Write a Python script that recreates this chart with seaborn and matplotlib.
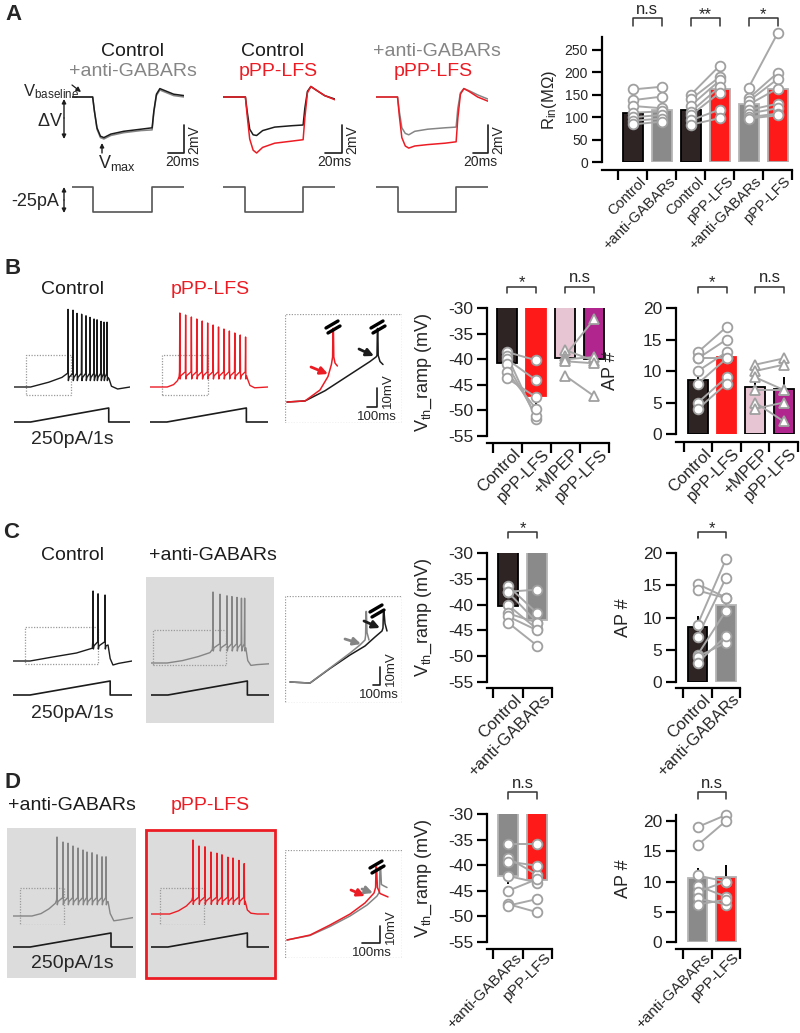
import numpy as np
import pandas as pd
import matplotlib
matplotlib.use('Agg')
import matplotlib.pyplot as plt
import seaborn as sns
from matplotlib.transforms import Affine2D, blended_transform_factory
from matplotlib.lines import Line2D
from matplotlib.patches import Rectangle, FancyArrowPatch

# ======================= DATA =======================
# ---- Panel A : passive responses (time ms, deltaV mV) ----
A_t1 = [0, 24, 26, 29, 33, 37, 45, 60, 80, 93, 95, 98, 102, 108, 118, 130]
A_t2 = [0, 26, 28, 31, 35, 39, 46, 60, 80, 93, 95, 98, 102, 108, 118, 130]
A_t3 = [0, 25, 27, 30, 34, 38, 45, 60, 80, 93, 95, 98, 102, 108, 118, 130]
A1_ctrl = [0, 0, -1.0, -2.2, -2.8, -2.9, -2.65, -2.45, -2.3, -2.2, -1.0, 0.2, 0.6, 0.45, 0.2, 0.1]
A1_anti = [0, 0, -1.0, -2.3, -2.9, -3.0, -2.75, -2.55, -2.4, -2.35, -1.1, 0.1, 0.5, 0.35, 0.1, 0.0]
A2_ctrl = [0, 0, -1.0, -2.3, -2.7, -2.75, -2.4, -2.15, -2.05, -2.0, -0.8, 0.4, 0.75, 0.5, 0.1, -0.15]
A2_lfs = [0, 0, -1.3, -3.0, -3.8, -4.0, -3.6, -3.3, -3.15, -3.05, -1.5, 0.3, 0.75, 0.5, 0.1, -0.2]
A3_anti = [0, 0, -1.0, -2.2, -2.6, -2.7, -2.45, -2.3, -2.2, -2.15, -0.8, 0.3, 0.6, 0.45, 0.15, -0.15]
A3_lfs = [0, 0, -1.3, -2.9, -3.5, -3.65, -3.5, -3.4, -3.3, -3.2, -1.5, 0.2, 0.6, 0.4, 0.0, -0.3]
A_step_on = [24, 26, 25]
A_step_off = [93, 93, 93]
A_step_pA = -25

# ---- Panel A : input resistance ----
A_rin_labels = ['Control', '+anti-GABARs', 'Control', 'pPP-LFS', '+anti-GABARs', 'pPP-LFS']
A_rin_means = [110, 117, 115, 162, 130, 162]
A_rin_sem = [9, 9, 9, 14, 9, 20]
A_rin_ctrl1 = [162, 138, 125, 110, 100, 92, 84]
A_rin_anti1 = [168, 146, 120, 113, 105, 97, 90]
A_rin_ctrl2 = [150, 140, 126, 112, 104, 93, 83]
A_rin_lfs2 = [215, 190, 182, 168, 155, 117, 98]
A_rin_anti3 = [166, 142, 136, 128, 116, 108, 100, 97]
A_rin_lfs3 = [287, 199, 185, 164, 130, 120, 108, 104]

# ---- Ramp traces (time ms, Vm mV) ----
ramp_I_t = [0, 215, 1225, 1225, 1500]
ramp_I_pA = [0, 0, 250, 0, 0]

B_ctrl_pre_t = [0, 215, 450, 620, 690]
B_ctrl_pre_v = [-65, -65, -59, -53, -48]
B_ctrl_sp_t = [699, 763, 815, 875, 931, 983, 1035, 1074, 1125, 1164, 1203]
B_ctrl_sp_v = [32, 31, 27, 26, 24, 22, 20, 19, 17, 16, 16]
B_ctrl_trough = -50
B_ctrl_post_t = [1230, 1260, 1340, 1500]
B_ctrl_post_v = [-55, -64, -67.5, -65]

B_lfs_pre_t = [0, 220, 300, 350, 370]
B_lfs_pre_v = [-65, -65, -62, -57, -52]
B_lfs_sp_t = [379, 453, 526, 595, 664, 733, 802, 871, 940, 1009, 1078, 1147, 1215]
B_lfs_sp_v = [27.5, 25, 22.5, 20, 17.5, 15, 12.5, 10, 7.5, 5, 2.5, 0, -2.5]
B_lfs_trough = -48
B_lfs_post_t = [1240, 1270, 1330, 1500]
B_lfs_post_v = [-55, -63, -66, -65]

C_ctrl_pre_t = [0, 215, 500, 800, 1000]
C_ctrl_pre_v = [-65, -65, -60, -55, -49]
C_ctrl_sp_t = [1009, 1072, 1160]
C_ctrl_sp_v = [22.5, 19, 17.5]
C_ctrl_trough = -43
C_ctrl_post_t = [1198, 1225, 1260, 1330, 1500]
C_ctrl_post_v = [-45, -62, -70, -68, -65]

C_anti_pre_t = [0, 205, 400, 600, 750, 780]
C_anti_pre_v = [-65, -65, -62, -57, -52, -48]
C_anti_sp_t = [788, 877, 966, 1029, 1093, 1150, 1190]
C_anti_sp_v = [23.75, 21, 19, 18, 17, 16, 16]
C_anti_trough = -43
C_anti_post_t = [1205, 1230, 1270, 1350, 1500]
C_anti_post_v = [-46, -62, -68, -67, -66]

D_anti_pre_t = [0, 237, 350, 450, 530, 545]
D_anti_pre_v = [-65, -65, -62, -56, -49, -45]
D_anti_sp_t = [550, 625, 688, 750, 813, 875, 925, 988, 1050, 1113, 1163]
D_anti_sp_v = [33.75, 27.5, 26, 22.5, 20, 17.5, 15, 14, 11.5, 9, 9]
D_anti_trough = -44
D_anti_post_t = [1188, 1215, 1260, 1330, 1500]
D_anti_post_v = [-47, -62, -71, -70, -67]

D_lfs_pre_t = [0, 237, 350, 450, 520]
D_lfs_pre_v = [-65, -65, -61, -55, -48]
D_lfs_sp_t = [533, 610, 686, 762, 838, 902, 978, 1042, 1118, 1185]
D_lfs_sp_v = [27.5, 20, 19, 12.5, 11, 9, 6, 5, 2, -2]
D_lfs_trough = -46
D_lfs_post_t = [1200, 1225, 1270, 1350, 1500]
D_lfs_post_v = [-50, -60, -64, -65, -65]

# ---- Zoomed insets (time ms, Vm mV) ----
Bi_lfs_t = [10, 100, 175, 215, 232, 238, 240, 242, 244, 250, 262]
Bi_lfs_v = [-61, -60.3, -53, -44, -36, -31, -12, -12, -31, -35, -37]
Bi_ctrl_t = [10, 100, 200, 275, 350, 425, 455, 460, 462, 464, 466, 475, 490]
Bi_ctrl_v = [-61, -60.3, -53.5, -47, -40.5, -34, -31, -30, -12, -12, -30, -34, -36]
Ci_anti_t = [25, 125, 225, 325, 375, 400, 403, 405, 407, 410, 420]
Ci_anti_v = [-61, -61.7, -51.7, -41.7, -36.3, -33, -30, -14, -14, -28, -33]
Ci_ctrl_t = [25, 125, 225, 325, 400, 450, 485, 490, 492, 495, 500, 510]
Ci_ctrl_v = [-61, -61.7, -52, -43, -37, -31, -27, -25, -14, -14, -22, -27]
Di_lfs_t = [10, 125, 225, 325, 400, 445, 453, 455, 458, 462, 475, 515]
Di_lfs_v = [-63, -59.7, -53, -45.7, -38.3, -31.7, -28, -14.3, -14.3, -28, -32, -34.3]
Di_anti_t = [10, 125, 225, 325, 410, 460, 472, 475, 478, 482, 495, 510]
Di_anti_v = [-63, -60, -54, -47, -39.7, -33.7, -31, -14.3, -14.3, -26, -27, -28]

# ---- Bar panels ----
B_vth_labels = ['Control', 'pPP-LFS', '+MPEP', 'pPP-LFS']
B_vth_means = [-40.8, -47.2, -39.7, -39.9]
B_vth_sem = [0.8, 1.8, 0.9, 1.8]
B_vth_ctrl = [-38.6, -39.3, -40.0, -41.0, -42.5, -43.7]
B_vth_lfs = [-40.2, -51.6, -44.1, -51.0, -49.7, -47.4]
B_vth_mpep = [-38.2, -39.3, -40.0, -40.4, -43.2]
B_vth_mpep_lfs = [-40.3, -32.2, -39.6, -40.8, -47.2]

B_ap_means = [8.6, 12.3, 7.5, 7.2]
B_ap_sem = [1.3, 1.5, 1.1, 1.8]
B_ap_ctrl = [13, 12, 12, 10, 8, 5, 4]
B_ap_lfs = [17, 15, 12, 13, 12, 9, 8]
B_ap_mpep = [11, 10, 9, 7, 5, 4]
B_ap_mpep_lfs = [12, 11, 7, 7, 2, 5]

C_labels = ['Control', '+anti-GABARs']
C_vth_means = [-40.3, -43.0]
C_vth_sem = [1.0, 1.2]
C_vth_ctrl = [-36.4, -37.5, -37.6, -40.1, -41.7, -42.3, -43.5]
C_vth_anti = [-41.7, -37.1, -43.5, -44.8, -43.5, -45.0, -48.0]
C_ap_means = [8.6, 11.9]
C_ap_sem = [1.6, 1.8]
C_ap_ctrl = [15.2, 14.2, 8.9, 7.0, 4.2, 3.9, 3.0]
C_ap_anti = [13.1, 13.0, 19.0, 16.1, 11.0, 6.1, 7.1]

D_labels = ['+anti-GABARs', 'pPP-LFS']
D_vth_means = [-42.2, -42.8]
D_vth_sem = [1.5, 1.3]
D_vth_anti = [-35.9, -38.6, -39.3, -42.1, -45.0, -47.6, -47.9]
D_vth_lfs = [-35.9, -41.9, -40.1, -43.4, -42.7, -49.2, -46.6]
D_ap_means = [10.6, 10.8]
D_ap_sem = [1.6, 2.0]
D_ap_anti = [19, 16, 11, 9.3, 8.3, 7.2, 6.2]
D_ap_lfs = [21, 20, 10, 7.5, 10, 6.2, 7.0]

# ======================= STYLE =======================
sns.set_style('ticks')
plt.rcParams['font.family'] = ['Liberation Sans', 'DejaVu Sans']
plt.rcParams['mathtext.fontset'] = 'custom'
plt.rcParams['mathtext.rm'] = 'Liberation Sans'
plt.rcParams['mathtext.it'] = 'Liberation Sans:italic'
plt.rcParams['axes.unicode_minus'] = False

BLK = '#1c1c1c'
GRY = '#858585'
RED = '#ec1c24'
C_CTRL = '#2e2424'
C_ANTI = '#8a8a8a'
C_LFS = '#ff1a1a'
C_MPEP = '#e8c5d3'
C_MAG = '#b0268e'

W, H = 800, 1033
fig = plt.figure(figsize=(8, 10.33), dpi=100)
PX = Affine2D().scale(1 / W, -1 / H).translate(0, 1) + fig.transFigure


def ax_px(x0, y0, x1, y1):
    return fig.add_axes([x0 / W, 1 - y1 / H, (x1 - x0) / W, (y1 - y0) / H])


def txt(x, y, s, **kw):
    kw.setdefault('ha', 'center')
    kw.setdefault('va', 'center')
    fig.text(x, y, s, transform=PX, **kw)


def line_px(xs, ys, **kw):
    fig.add_artist(Line2D(xs, ys, transform=PX, **kw))


def arrow_px(p0, p1, color, style='-|>', ms=10, lw=1.2):
    fig.add_artist(FancyArrowPatch(p0, p1, transform=PX, arrowstyle=style,
                                   mutation_scale=ms, color=color, lw=lw,
                                   shrinkA=0, shrinkB=0))


def trace_axes(x0, y0, x1, y1, xlim, ylim):
    ax = ax_px(x0, y0, x1, y1)
    ax.set_xlim(xlim)
    ax.set_ylim(ylim)
    ax.axis('off')
    ax.patch.set_visible(False)
    return ax


def spike_trace(pre_t, pre_v, sp_t, sp_v, trough, post_t, post_v):
    t = list(pre_t)
    v = list(pre_v)
    for ts, pk in zip(sp_t, sp_v):
        t += [ts - 4, ts, ts + 4, ts + 12]
        v += [trough + 2, pk, trough - 7, trough - 3]
    return t + list(post_t), v + list(post_v)


def vm_axes(x0, x1, y0, y1, base_px):
    return trace_axes(x0, y0, x1, y1, (0, 1500),
                      (-65 - (y1 - base_px) / 0.8, -65 + (base_px - y0) / 0.8))


def cur_axes(x0, x1, y0, y1, zero_px):
    return trace_axes(x0, y0, x1, y1, (0, 1500),
                      (-(y1 - zero_px) / 0.056, (zero_px - y0) / 0.056))


def zoom_rect(ax, t0, t1, v0, v1):
    ax.add_patch(Rectangle((t0, v0), t1 - t0, v1 - v0, fill=False,
                           ls=(0, (1, 1.2)), ec='#9a9a9a', lw=0.9))


def scalebar(xv, ytop, ybot, xleft, vlab, hlab, vx, hx, hy, size=9.5):
    line_px([xleft, xv, xv], [ybot, ybot, ytop], color=BLK, lw=1.2)
    txt(vx, ybot + 1, vlab, rotation=90, fontsize=size, va='bottom')
    txt(hx, hy, hlab, fontsize=size)


def breakmark(cx, cy):
    line_px([cx - 7, cx + 5], [cy + 1, cy - 6], color='black', lw=2.4)
    line_px([cx - 5, cx + 7], [cy + 6, cy - 1], color='black', lw=2.4)


def bar_panel(box, xlim, ylim, yticks, labels, means, sems, colors, edges,
              pairs, ylabel, ylab_x, sigs, offset, tick_fs, lab_fs, ylab_fs, lab_dy=9):
    x0, y0, x1, y1 = box
    ax = ax_px(x0, y0, x1, y1)
    ax.patch.set_visible(False)
    keys = ['k%d' % i for i in range(len(means))]
    df = pd.DataFrame({'key': keys, 'val': means})
    sns.barplot(data=df, x='key', y='val', hue='key', order=keys, hue_order=keys,
                palette=dict(zip(keys, colors)), errorbar=None, width=0.69,
                legend=False, ax=ax, saturation=1, linewidth=1.3)
    for p, ec in zip(ax.patches, edges):
        p.set_edgecolor(ec)
    ax.errorbar(range(len(means)), means, yerr=sems, fmt='none', ecolor='black',
                elinewidth=1.4, capsize=0, zorder=0.9)
    for i, j, a, b, mk in pairs:
        for u, v in zip(a, b):
            ax.plot([i, j], [u, v], color='#a8a8a8', lw=1.4, zorder=3, clip_on=False)
        for pos, vals in ((i, a), (j, b)):
            ax.plot([pos] * len(vals), vals, ls='', marker=mk, ms=7, mfc='white',
                    mec='#a0a0a0', mew=1.3, zorder=4, clip_on=False)
    ax.set_xlim(xlim)
    ax.set_ylim(ylim)
    ax.set_yticks(yticks)
    ax.set_yticklabels([str(t) for t in yticks])
    n = len(means)
    ax.set_xticks([k - 0.5 for k in range(n + 1)])
    ax.set_xticklabels([])
    ax.set_xlabel('')
    ax.set_ylabel(ylabel, fontsize=ylab_fs)
    ax.yaxis.set_label_coords(ylab_x, 0.5, transform=blended_transform_factory(PX, ax.transAxes))
    for s in ('top', 'right'):
        ax.spines[s].set_visible(False)
    ax.spines['bottom'].set_position(('outward', offset))
    ax.spines['bottom'].set_bounds(xlim[0], n - 0.5)
    for s in ('left', 'bottom'):
        ax.spines[s].set_linewidth(1.6)
        ax.spines[s].set_color('black')
    ax.tick_params(axis='both', width=1.6, length=7, labelsize=tick_fs,
                   direction='out', color='black', pad=3)
    bl = blended_transform_factory(ax.transData, PX)
    axis_px = y1 + offset * 100 / 72
    for k, lab in enumerate(labels):
        ax.text(k + 0.38, axis_px + lab_dy, lab, transform=bl, rotation=45, ha='right',
                va='center', rotation_mode='anchor', fontsize=lab_fs)
    for i, j, s, yt, yb, ytx in sigs:
        ax.plot([i, i, j, j], [yb, yt, yt, yb], transform=bl, color='#333333',
                lw=1.1, clip_on=False)
        ax.text((i + j) / 2, ytx, s, transform=bl, ha='center', va='center', fontsize=12)
    return ax


# ======================= PANEL A =======================
txt(13, 15, 'A', fontsize=16, fontweight='bold')
A_traces = [
    (72, A_t1, [(A1_anti, GRY), (A1_ctrl, BLK)]),
    (223, A_t2, [(A2_ctrl, BLK), (A2_lfs, RED)]),
    (376, A_t3, [(A3_anti, GRY), (A3_lfs, RED)]),
]
for k, (x0, tt, sets) in enumerate(A_traces):
    ax = trace_axes(x0, 80, x0 + 112, 160, (0, 130), (-4.5, 17 / 14))
    for vv, cc in sets:
        ax.plot(tt, vv, color=cc, lw=1.1)
    axI = trace_axes(x0, 180, x0 + 112, 218, (0, 130), (-31, 7))
    on, off = A_step_on[k], A_step_off[k]
    axI.plot([0, on, on, off, off, 130], [0, 0, A_step_pA, A_step_pA, 0, 0],
             color='#555555', lw=1.2)

txt(132, 52, 'Control', fontsize=14, color=BLK)
txt(133, 72, '+anti-GABARs', fontsize=14, color=GRY)
txt(273, 52, 'Control', fontsize=14, color=BLK)
txt(278, 72, 'pPP-LFS', fontsize=14, color=RED)
txt(437, 52, '+anti-GABARs', fontsize=14, color=GRY)
txt(433, 72, 'pPP-LFS', fontsize=14, color=RED)

for xv, xl, vx, hx in ((184, 168, 194, 182), (342, 325, 352, 334), (488, 473, 498, 480)):
    scalebar(xv, 125, 153, xl, '2mV', '20ms', vx, hx, 162, size=10)

txt(23, 92, r'V$_{\rm baseline}$', fontsize=12, ha='left')
arrow_px((72, 85), (81, 92), BLK, ms=7, lw=0.9)
txt(50, 121, r'$\Delta$V', fontsize=13)
arrow_px((64, 118), (64, 99), BLK, ms=6, lw=1)
arrow_px((64, 118), (64, 139), BLK, ms=6, lw=1)
txt(98, 163, r'V$_{\rm max}$', fontsize=13, ha='left')
arrow_px((102, 153), (102, 143), BLK, ms=6, lw=1)
txt(35, 201, '-25pA', fontsize=13)
arrow_px((64, 200), (64, 187), BLK, ms=6, lw=1)
arrow_px((64, 200), (64, 213), BLK, ms=6, lw=1)

bar_panel((602, 37, 792, 162), (-1.07, 5.5), (0, 279), [0, 50, 100, 150, 200, 250],
          A_rin_labels, A_rin_means, A_rin_sem,
          [C_CTRL, C_ANTI, C_CTRL, C_LFS, C_ANTI, C_LFS],
          ['black', '#b5b5b5', 'black', '#b0b0b0', '#b5b5b5', '#b0b0b0'],
          [(0, 1, A_rin_ctrl1, A_rin_anti1, 'o'), (2, 3, A_rin_ctrl2, A_rin_lfs2, 'o'),
           (4, 5, A_rin_anti3, A_rin_lfs3, 'o')],
          r'R$_{\rm in}$(M$\Omega$)', 559,
          [(0, 1, 'n.s', 18, 26, 10), (2, 3, '**', 18, 26, 15), (4, 5, '*', 18, 26, 15)],
          6, 10, 10.5, 12)

# ======================= PANEL B =======================
txt(13, 268, 'B', fontsize=16, fontweight='bold')
txt(73, 289, 'Control', fontsize=14, color=BLK)
txt(210, 289, 'pPP-LFS', fontsize=14, color=RED)
t, v = spike_trace(B_ctrl_pre_t, B_ctrl_pre_v, B_ctrl_sp_t, B_ctrl_sp_v, B_ctrl_trough,
                   B_ctrl_post_t, B_ctrl_post_v)
ax = vm_axes(14, 130, 300, 400, 387)
ax.plot(t, v, color=BLK, lw=1.0)
zoom_rect(ax, 155, 737, -75, -25)
t, v = spike_trace(B_lfs_pre_t, B_lfs_pre_v, B_lfs_sp_t, B_lfs_sp_v, B_lfs_trough,
                   B_lfs_post_t, B_lfs_post_v)
ax = vm_axes(150, 268, 300, 400, 387)
ax.plot(t, v, color=RED, lw=1.0)
zoom_rect(ax, 155, 737, -75, -25)
for x0, x1 in ((14, 130), (150, 268)):
    axI = cur_axes(x0, x1, 400, 430, 422)
    axI.plot(ramp_I_t, ramp_I_pA, color=BLK, lw=1.2)
txt(72, 439, '250pA/1s', fontsize=14)

axi = trace_axes(285, 314, 402, 423, (0, 585), (-75, -75 + 109 / 1.5))
axi.add_patch(Rectangle((0, 0), 1, 1, transform=axi.transAxes, fill=False,
                        ls=(0, (1, 1.2)), ec='#9a9a9a', lw=0.9))
axi.plot(Bi_ctrl_t, Bi_ctrl_v, color=BLK, lw=1.1)
axi.plot(Bi_lfs_t, Bi_lfs_v, color=RED, lw=1.1)
breakmark(333, 327)
breakmark(378, 327)
arrow_px((311, 367), (328, 374), RED, ms=11, lw=2)
arrow_px((359, 349), (374, 356), BLK, ms=11, lw=2)
scalebar(377, 388, 407, 367, '10mV', '100ms', 388, 377, 417)

bar_panel((487, 308, 610, 436), (-0.69, 3.55), (-55, -30), [-55, -50, -45, -40, -35, -30],
          B_vth_labels, B_vth_means, B_vth_sem,
          [C_CTRL, C_LFS, C_MPEP, C_MAG], ['black', '#ff1a1a', 'black', 'black'],
          [(0, 1, B_vth_ctrl, B_vth_lfs, 'o'), (2, 3, B_vth_mpep, B_vth_mpep_lfs, '^')],
          r'V$_{\rm th}$_ramp (mV)', 434,
          [(0, 1, '*', 287, 293, 283), (2, 3, 'n.s', 287, 293, 277)],
          5, 12.5, 12, 13)
bar_panel((676, 308, 798, 434), (-0.77, 3.5), (0, 20), [0, 5, 10, 15, 20],
          B_vth_labels, B_ap_means, B_ap_sem,
          [C_CTRL, C_LFS, C_MPEP, C_MAG], ['black', '#ff1a1a', 'black', 'black'],
          [(0, 1, B_ap_ctrl, B_ap_lfs, 'o'), (2, 3, B_ap_mpep, B_ap_mpep_lfs, '^')],
          'AP #', 619,
          [(0, 1, '*', 287, 293, 283), (2, 3, 'n.s', 287, 293, 277)],
          6, 12.5, 12, 13)

# ======================= PANEL C =======================
txt(11, 532, 'C', fontsize=16, fontweight='bold')
txt(73, 555, 'Control', fontsize=14, color=BLK)
txt(213, 555, '+anti-GABARs', fontsize=14, color=BLK)
fig.add_artist(Rectangle((146, 577), 128, 146, transform=PX, fc='#dcdcdc', ec='none', zorder=-1))
t, v = spike_trace(C_ctrl_pre_t, C_ctrl_pre_v, C_ctrl_sp_t, C_ctrl_sp_v, C_ctrl_trough,
                   C_ctrl_post_t, C_ctrl_post_v)
ax = vm_axes(13, 132, 580, 670, 661)
ax.plot(t, v, color=BLK, lw=1.0)
zoom_rect(ax, 152, 1067, -68.75, -22.5)
t, v = spike_trace(C_anti_pre_t, C_anti_pre_v, C_anti_sp_t, C_anti_sp_v, C_anti_trough,
                   C_anti_post_t, C_anti_post_v)
ax = vm_axes(151, 269, 580, 670, 663)
ax.plot(t, v, color=GRY, lw=1.0)
zoom_rect(ax, 25, 953, -67.5, -23.75)
for x0, x1 in ((13, 132), (151, 269)):
    axI = cur_axes(x0, x1, 675, 705, 695)
    axI.plot(ramp_I_t, ramp_I_pA, color=BLK, lw=1.2)
txt(72, 713, '250pA/1s', fontsize=14)

axi = trace_axes(285, 596, 402, 703, (0, 585), (-75, -75 + 107 / 1.5))
axi.add_patch(Rectangle((0, 0), 1, 1, transform=axi.transAxes, fill=False,
                        ls=(0, (1, 1.2)), ec='#9a9a9a', lw=0.9))
axi.plot(Ci_ctrl_t, Ci_ctrl_v, color=BLK, lw=1.1)
axi.plot(Ci_anti_t, Ci_anti_v, color=GRY, lw=1.1)
breakmark(377, 611)
arrow_px((345, 639), (361, 644), GRY, ms=11, lw=2)
arrow_px((364, 621), (380, 628), BLK, ms=11, lw=2)
scalebar(380, 667, 685, 373, '10mV', '100ms', 391, 379, 695)

bar_panel((487, 553, 552, 682), (-0.72, 1.5), (-55, -30), [-55, -50, -45, -40, -35, -30],
          C_labels, C_vth_means, C_vth_sem, [C_CTRL, C_ANTI], ['black', '#b5b5b5'],
          [(0, 1, C_vth_ctrl, C_vth_anti, 'o')],
          r'V$_{\rm th}$_ramp (mV)', 434, [(0, 1, '*', 532, 538, 529)],
          4.5, 12.5, 12, 13)
bar_panel((676, 553, 740, 682), (-0.76, 1.5), (0, 20), [0, 5, 10, 15, 20],
          C_labels, C_ap_means, C_ap_sem, [C_CTRL, C_ANTI], ['black', '#b5b5b5'],
          [(0, 1, C_ap_ctrl, C_ap_anti, 'o')],
          'AP #', 632, [(0, 1, '*', 532, 538, 529)],
          4.5, 12.5, 12, 13)

# ======================= PANEL D =======================
txt(13, 782, 'D', fontsize=16, fontweight='bold')
txt(72, 805, '+anti-GABARs', fontsize=14, color=BLK)
txt(210, 805, 'pPP-LFS', fontsize=14, color=RED)
fig.add_artist(Rectangle((7, 828), 129, 150, transform=PX, fc='#dcdcdc', ec='none', zorder=-1))
fig.add_artist(Rectangle((146, 830), 129, 148, transform=PX, fc='#dcdcdc', ec=RED, lw=2, zorder=-1))
t, v = spike_trace(D_anti_pre_t, D_anti_pre_v, D_anti_sp_t, D_anti_sp_v, D_anti_trough,
                   D_anti_post_t, D_anti_post_v)
ax = vm_axes(13, 133, 830, 925, 916)
ax.plot(t, v, color=GRY, lw=1.0)
zoom_rect(ax, 88, 638, -76, -30)
t, v = spike_trace(D_lfs_pre_t, D_lfs_pre_v, D_lfs_sp_t, D_lfs_sp_v, D_lfs_trough,
                   D_lfs_post_t, D_lfs_post_v)
ax = vm_axes(151, 269, 830, 925, 914)
ax.plot(t, v, color=RED, lw=1.0)
zoom_rect(ax, 114, 673, -78.75, -32.5)
for x0, x1 in ((13, 133), (151, 269)):
    axI = cur_axes(x0, x1, 925, 955, 947)
    axI.plot(ramp_I_t, ramp_I_pA, color=BLK, lw=1.2)
txt(72, 964, '250pA/1s', fontsize=14)

axi = trace_axes(285, 850, 402, 958, (0, 585), (-75, -75 + 108 / 1.5))
axi.add_patch(Rectangle((0, 0), 1, 1, transform=axi.transAxes, fill=False,
                        ls=(0, (1, 1.2)), ec='#9a9a9a', lw=0.9))
axi.plot(Di_anti_t, Di_anti_v, color=GRY, lw=1.1)
axi.plot(Di_lfs_t, Di_lfs_v, color=RED, lw=1.1)
breakmark(377, 867)
arrow_px((351, 890), (365, 896), RED, ms=11, lw=2)
arrow_px((362, 889), (373, 893), GRY, ms=11, lw=2)
scalebar(380, 926, 943, 362, '10mV', '100ms', 391, 372, 953)

bar_panel((487, 814, 552, 942), (-0.72, 1.5), (-55, -30), [-55, -50, -45, -40, -35, -30],
          D_labels, D_vth_means, D_vth_sem, [C_ANTI, C_LFS], ['#b5b5b5', '#b0b0b0'],
          [(0, 1, D_vth_anti, D_vth_lfs, 'o')],
          r'V$_{\rm th}$_ramp (mV)', 434, [(0, 1, 'n.s', 792, 799, 783)],
          5, 12.5, 11, 13, lab_dy=7)
bar_panel((676, 815, 740, 942), (-0.76, 1.5), (0, 21), [0, 5, 10, 15, 20],
          D_labels, D_ap_means, D_ap_sem, [C_ANTI, C_LFS], ['#b5b5b5', '#b0b0b0'],
          [(0, 1, D_ap_anti, D_ap_lfs, 'o')],
          'AP #', 632, [(0, 1, 'n.s', 792, 799, 783)],
          5, 12.5, 11, 13, lab_dy=7)

fig.savefig('out.png', dpi=100)
